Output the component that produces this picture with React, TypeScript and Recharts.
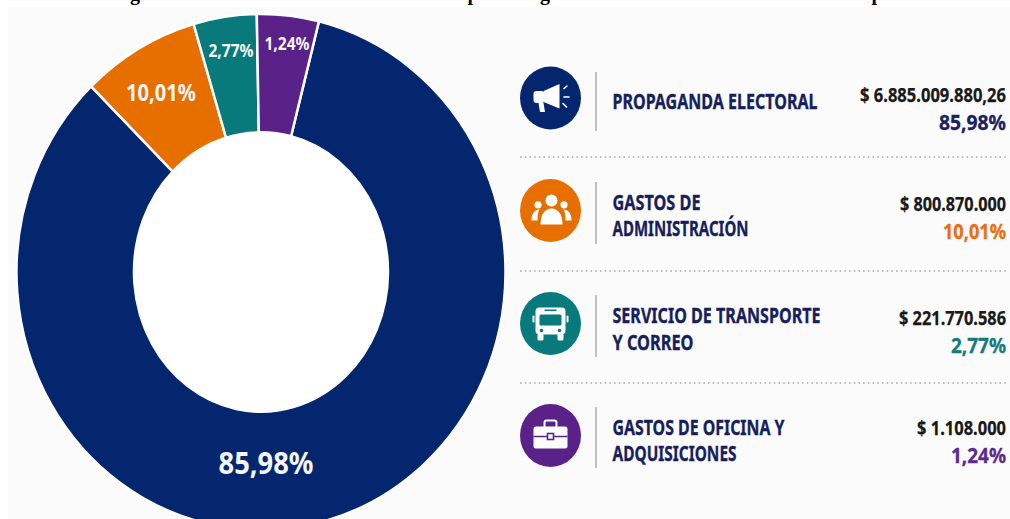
import { Pie, PieChart } from "recharts";

// Slice sizes as drawn in the picture (%), which are not the same as the printed percentages
const categories = ["PROPAGANDA ELECTORAL", "GASTOS DE ADMINISTRACIÓN", "SERVICIO DE TRANSPORTE Y CORREO", "GASTOS DE OFICINA Y ADQUISICIONES"];
const drawnShares = [83.97, 7.78, 4.17, 4.08];
const percentLabels = ["85,98%", "10,01%", "2,77%", "1,24%"];
const amountLabels = ["$ 6.885.009.880,26", "$ 800.870.000", "$ 221.770.586", "$ 1.108.000"];
const nameLines = [["PROPAGANDA ELECTORAL"], ["GASTOS DE", "ADMINISTRACIÓN"], ["SERVICIO DE TRANSPORTE", "Y CORREO"], ["GASTOS DE OFICINA Y", "ADQUISICIONES"]];
const titleFragments = ["g", "p", "g", "p"];

const COLORS = ["#03266f", "#e76f00", "#087a7b", "#5a2189"];
const TEXT_COLORS = ["#1a2260", "#e96f10", "#13797a", "#5a2a8c"];
const NAVY_TEXT = "#161f5c";
const FONT = "'Noto Sans', sans-serif";

const chartData = categories.map((name, i) => ({ name, value: drawnShares[i], fill: COLORS[i] }));

// The picture is stretched vertically, hole more than the outer edge
const OUTER_STRETCH = 1.055;
const INNER_STRETCH = 1.1;
const RAD = Math.PI / 180;

function EllipseSector(props: any) {
  const { cx, cy, innerRadius: ir, outerRadius: or, startAngle, endAngle, fill } = props;
  const ory = or * OUTER_STRETCH;
  const iry = ir * INNER_STRETCH;
  const pt = (rx: number, ry: number, a: number) => `${cx + rx * Math.cos(a * RAD)} ${cy - ry * Math.sin(a * RAD)}`;
  const large = Math.abs(startAngle - endAngle) > 180 ? 1 : 0;
  const d = `M${pt(or, ory, startAngle)} A${or} ${ory} 0 ${large} 1 ${pt(or, ory, endAngle)} L${pt(ir, iry, endAngle)} A${ir} ${iry} 0 ${large} 0 ${pt(ir, iry, startAngle)} Z`;
  return <path d={d} fill={fill} stroke="#fff" strokeWidth={2.5} strokeLinejoin="round" />;
}

const sliceLabelSpots = [
  { dx: 5, dy: 190, size: 31, width: 95 },
  { dx: -100, dy: -181, size: 24, width: 70 },
  { dx: -30, dy: -222, size: 18, width: 45 },
  { dx: 26, dy: -229, size: 18, width: 45 },
];

function SliceLabel(props: any) {
  const { cx, cy, index } = props;
  const s = sliceLabelSpots[index];
  return (
    <text x={cx + s.dx} y={cy + s.dy} fill="#f6f6f6" fontFamily={FONT} fontWeight={700} fontSize={s.size}
      textAnchor="middle" dominantBaseline="central" textLength={s.width} lengthAdjust="spacingAndGlyphs">
      {percentLabels[index]}
    </text>
  );
}

const rowLayout = [
  { cy: 98, barTop: 72, barBottom: 131, nameY: [101], nameW: [205], amountY: 94, amountW: 146, pctY: 121, pctW: 67 },
  { cy: 210.5, barTop: 182, barBottom: 244, nameY: [202, 228], nameW: [88, 136], amountY: 203, amountW: 106, pctY: 230, pctW: 63 },
  { cy: 323.5, barTop: 295, barBottom: 357, nameY: [315, 342], nameW: [208, 81], amountY: 317, amountW: 107, pctY: 344, pctW: 55 },
  { cy: 435.5, barTop: 407, barBottom: 468, nameY: [427, 453], nameW: [172, 124], amountY: 427, amountW: 89, pctY: 454, pctW: 55 },
];
const dividerYs = [157, 271, 383];

function Megaphone() {
  return (
    <g fill="#fff">
      <rect x={-17} y={-7} width={11} height={12} rx={3} />
      <path d="M-7 -7 L9 -14 L9 10.5 L-7 4 Z" />
      <path d="M-12 5 L-7 5 L-5.5 14 L-10.5 14 Z" />
      <g stroke="#fff" strokeWidth={1.6} strokeLinecap="round">
        <line x1={13.5} y1={-9.5} x2={16.5} y2={-12} />
        <line x1={13.5} y1={-1} x2={18.5} y2={-1} />
        <line x1={12.5} y1={5.5} x2={16} y2={9} />
      </g>
    </g>
  );
}

function People() {
  return (
    <g fill="#fff">
      <circle cx={1} cy={-10} r={6} />
      <circle cx={-12.5} cy={-5.7} r={3.6} />
      <circle cx={13.5} cy={-5.7} r={3.6} />
      <path d="M-10 14 C-10 3 -5 -2 1 -2 C7 -2 12 3 12 14 Z" />
      <path d="M-19 10 C-19 3 -16 -1 -11 -1 C-13 2 -13 6 -13 10 Z" />
      <path d="M21 10 C21 3 18 -1 13 -1 C15 2 15 6 15 10 Z" />
    </g>
  );
}

function Bus() {
  return (
    <g>
      <rect x={-15} y={-16} width={30} height={27} rx={4} fill="#fff" />
      <rect x={-13} y={10} width={6} height={7} rx={1.5} fill="#fff" />
      <rect x={7} y={10} width={6} height={7} rx={1.5} fill="#fff" />
      <rect x={-18} y={-8} width={2} height={7} rx={1} fill="#fff" />
      <rect x={16} y={-8} width={2} height={7} rx={1} fill="#fff" />
      <rect x={-11} y={-9} width={22} height={11} rx={1.5} fill={COLORS[2]} />
      <rect x={-6} y={-14} width={12} height={1.6} fill={COLORS[2]} />
      <circle cx={-9} cy={7} r={1.8} fill={COLORS[2]} />
      <circle cx={9} cy={7} r={1.8} fill={COLORS[2]} />
    </g>
  );
}

function Briefcase() {
  return (
    <g>
      <rect x={-6} y={-15} width={12} height={8} rx={2} fill="none" stroke="#fff" strokeWidth={2} />
      <rect x={-17} y={-9} width={34} height={22} rx={2.5} fill="#fff" />
      <line x1={-17} y1={1} x2={17} y2={1} stroke={COLORS[3]} strokeWidth={1.4} />
      <rect x={-3} y={-2} width={6} height={6} fill="#fff" stroke={COLORS[3]} strokeWidth={1.6} />
    </g>
  );
}

const icons = [Megaphone, People, Bus, Briefcase];
const titleXs = [135, 473, 545, 877];

export default function App() {
  return (
    <div style={{ position: "fixed", left: 0, top: 0, width: 1010, height: 519, overflow: "hidden", background: "#fff" }}>
      <svg width={1010} height={519} style={{ position: "absolute", left: 0, top: 0 }}>
        <rect x={8} y={7} width={1002} height={512} fill="#fbfbfb" />
        <ellipse cx={261} cy={272} rx={127} ry={140} fill="#fff" />
        {titleFragments.map((t, i) => (
          <text key={i} x={titleXs[i]} y={0} textAnchor="middle" fontFamily="'Liberation Serif', serif" fontWeight={700} fontSize={20} fill="#000">
            {t}
          </text>
        ))}
      </svg>

      <div style={{ position: "absolute", left: 0, top: 0 }}>
        <PieChart width={1010} height={560} margin={{ top: 0, right: 0, bottom: 0, left: 0 }}>
          <Pie
            data={chartData}
            dataKey="value"
            nameKey="name"
            cx={261}
            cy={272}
            innerRadius={127}
            outerRadius={244.5}
            startAngle={76.3}
            endAngle={-283.7}
            paddingAngle={0}
            shape={EllipseSector}
            label={SliceLabel}
            labelLine={false}
            isAnimationActive={false}
          />
        </PieChart>
      </div>

      <svg width={1010} height={519} style={{ position: "absolute", left: 0, top: 0 }}>
        {dividerYs.map((y) => (
          <line key={y} x1={520} y1={y} x2={1007} y2={y} stroke="#a9a9a9" strokeWidth={1.6} strokeDasharray="1.6 3.1" />
        ))}
        {rowLayout.map((row, i) => {
          const Icon = icons[i];
          return (
            <g key={i}>
              <ellipse cx={550.5} cy={row.cy} rx={30.5} ry={31.5} fill={COLORS[i]} />
              <g transform={`translate(550.5 ${row.cy})`}>
                <Icon />
              </g>
              <line x1={596} y1={row.barTop} x2={596} y2={row.barBottom} stroke="#b4b4b4" strokeWidth={1.6} />
              {nameLines[i].map((line, j) => (
                <text key={j} x={612.5} y={row.nameY[j]} fill={NAVY_TEXT} stroke={NAVY_TEXT} strokeWidth={0.35} fontFamily={FONT} fontWeight={700} fontSize={21}
                  dominantBaseline="central" textLength={row.nameW[j]} lengthAdjust="spacingAndGlyphs">
                  {line}
                </text>
              ))}
              <text x={1006} y={row.amountY} textAnchor="end" fill="#191919" stroke="#191919" strokeWidth={0.25} fontFamily={FONT} fontWeight={700} fontSize={19.5}
                dominantBaseline="central" textLength={row.amountW} lengthAdjust="spacingAndGlyphs">
                {amountLabels[i]}
              </text>
              <text x={1006} y={row.pctY} textAnchor="end" fill={TEXT_COLORS[i]} stroke={TEXT_COLORS[i]} strokeWidth={0.3} fontFamily={FONT} fontWeight={700} fontSize={22}
                dominantBaseline="central" textLength={row.pctW} lengthAdjust="spacingAndGlyphs">
                {percentLabels[i]}
              </text>
            </g>
          );
        })}
      </svg>
    </div>
  );
}
